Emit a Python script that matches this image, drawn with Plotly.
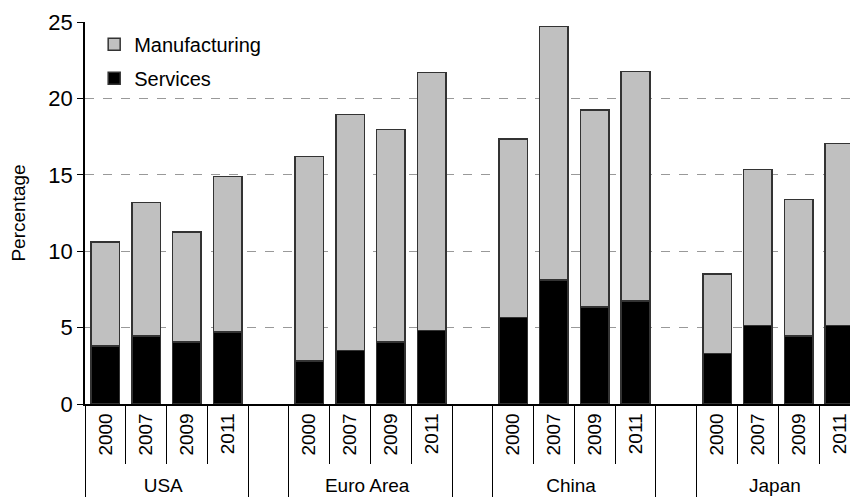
import plotly.graph_objects as go

groups = ["USA", "Euro Area", "China", "Japan"]
years = ["2000", "2007", "2009", "2011"]
services = {
    "USA": [3.8, 4.45, 4.05, 4.7],
    "Euro Area": [2.8, 3.5, 4.05, 4.8],
    "China": [5.65, 8.1, 6.35, 6.75],
    "Japan": [3.3, 5.15, 4.45, 5.15],
}
manufacturing = {
    "USA": [6.8, 8.75, 7.2, 10.2],
    "Euro Area": [13.4, 15.45, 13.9, 16.9],
    "China": [11.7, 16.6, 12.9, 15.0],
    "Japan": [5.2, 10.2, 8.95, 11.9],
}

outer, inner, sv, mv = [], [], [], []
for gi, g in enumerate(groups):
    if gi > 0:
        outer.append(" " * gi)
        inner.append(" " * gi)
        sv.append(None)
        mv.append(None)
    for yi, yr in enumerate(years):
        outer.append(g)
        inner.append(yr)
        sv.append(services[g][yi])
        mv.append(manufacturing[g][yi])

FONT = "Liberation Sans, Arial, sans-serif"
line = dict(color="#333333", width=1.5)

fig = go.Figure()
fig.add_trace(go.Bar(x=[outer, inner], y=sv, name="Services",
                     marker=dict(color="black", line=line),
                     legendgroup="s", legendrank=2))
fig.add_trace(go.Bar(x=[outer, inner], y=mv, name="Manufacturing",
                     marker=dict(color="#C0C0C0", line=line),
                     legendgroup="m", legendrank=1))

fig.update_layout(
    width=850, height=498,
    margin=dict(l=85, r=0, t=22, b=94),
    barmode="stack", bargap=0.3,
    plot_bgcolor="white", paper_bgcolor="white",
    font=dict(family=FONT, size=20, color="black"),
    showlegend=True,
    legend=dict(x=0.012, y=0.993, xanchor="left", yanchor="top",
                traceorder="grouped", tracegroupgap=5,
                bgcolor="rgba(0,0,0,0)", font=dict(size=20)),
)
fig.update_yaxes(
    range=[0, 25], tickvals=[0, 5, 10, 15, 20, 25],
    showgrid=True, gridcolor="#999999", griddash="dash", gridwidth=1,
    showline=True, linecolor="black", linewidth=1.5,
    ticks="outside", ticklen=6, tickcolor="black",
    tickfont=dict(size=22),
    title=dict(text="Percentage", font=dict(size=19), standoff=18),
    zeroline=False, automargin=False,
)
fig.update_xaxes(
    range=[-0.5, 18.26],
    showline=True, linecolor="black", linewidth=1.5,
    ticks="outside", tickson="boundaries", ticklen=58, tickcolor="black",
    tickangle=-90,
    showdividers=True, dividercolor="black", dividerwidth=1,
    tickfont=dict(size=19), automargin=False,
)

fig.write_html("out.html", config={"displayModeBar": False},
               post_script="document.body.style.margin='0';")
